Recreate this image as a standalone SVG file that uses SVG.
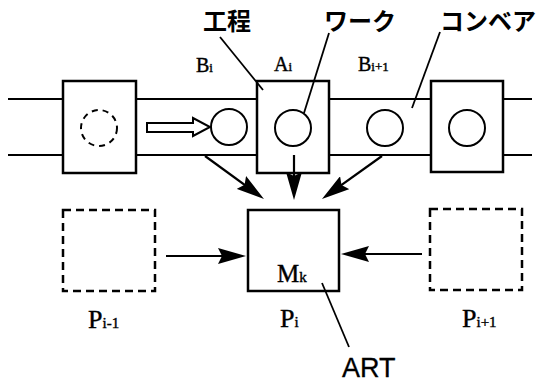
<svg xmlns="http://www.w3.org/2000/svg" width="537" height="383" viewBox="0 0 537 383">
<style>
.box{fill:#fff;stroke:#000;stroke-width:2.5}
.dbox{fill:none;stroke:#000;stroke-width:2.5;stroke-dasharray:8 5}
.wk{fill:#fff;stroke:#000;stroke-width:2}
.belt{fill:none;stroke:#000;stroke-width:2}
.lead{fill:none;stroke:#000;stroke-width:1.8}
.arr{fill:none;stroke:#000;stroke-width:2.2;marker-end:url(#ah)}
.ser{font-family:"Liberation Serif","Times New Roman",serif;fill:#000;stroke:#000;stroke-width:0.4}
.jp{font-family:"Noto Sans CJK JP","Noto Sans",sans-serif;font-size:24px;font-weight:bold;fill:#000}
.sans{font-family:"Liberation Sans",Arial,sans-serif;fill:#000;stroke:#000;stroke-width:0.3}
</style>
<defs>
<marker id="ah" viewBox="0 0 28 16" refX="18" refY="8" markerWidth="28" markerHeight="16" markerUnits="userSpaceOnUse" orient="auto">
<path d="M0,0 L28,8 L0,16 L4,8 z" fill="#000"/>
</marker>
</defs>
<g id="conveyor">
<line class="belt" x1="8" y1="99" x2="63" y2="99"/>
<line class="belt" x1="8" y1="155" x2="63" y2="155"/>
<line class="belt" x1="136" y1="99" x2="257" y2="99"/>
<line class="belt" x1="136" y1="155" x2="257" y2="155"/>
<line class="belt" x1="329" y1="99" x2="431" y2="99"/>
<line class="belt" x1="329" y1="155" x2="431" y2="155"/>
<line class="belt" x1="503" y1="99" x2="532" y2="99"/>
<line class="belt" x1="503" y1="155" x2="532" y2="155"/>
</g>
<g id="station-prev">
<rect class="box" x="63" y="81" width="73" height="92"/>
<circle cx="99" cy="128" r="18" fill="none" stroke="#000" stroke-width="2" stroke-dasharray="6 5"/>
</g>
<g id="buffer-Bi">
<polygon points="147,123 193,123 193,118 210,127 193,136 193,132 147,132" fill="#fff" stroke="#000" stroke-width="2"/>
<circle class="wk" cx="229" cy="127" r="18"/>
<text class="ser" x="196" y="72" font-size="20">B<tspan font-size="13">i</tspan></text>
</g>
<g id="station-Ai">
<rect class="box" x="257" y="81" width="72" height="92"/>
<circle class="wk" cx="293" cy="128" r="18"/>
<text class="ser" x="274" y="71" font-size="20">A<tspan font-size="13">i</tspan></text>
</g>
<g id="buffer-Bi1">
<circle class="wk" cx="385" cy="128" r="18"/>
<text class="ser" x="358" y="71" font-size="20">B<tspan font-size="13">i+1</tspan></text>
</g>
<g id="station-next">
<rect class="box" x="431" y="81" width="72" height="91"/>
<circle class="wk" cx="467" cy="128" r="18"/>
</g>
<g id="Pi">
<rect class="box" x="248" y="210" width="91" height="81"/>
<text class="ser" x="277" y="282" font-size="25">M<tspan font-size="15">k</tspan></text>
<text class="ser" x="280" y="327" font-size="26">P<tspan font-size="15">i</tspan></text>
</g>
<g id="Pi-1">
<rect class="dbox" x="63" y="210" width="92" height="81"/>
<text class="ser" x="88" y="328" font-size="26">P<tspan font-size="15">i-1</tspan></text>
</g>
<g id="Pi+1">
<rect class="dbox" x="430" y="209" width="92" height="81"/>
<text class="ser" x="462" y="327" font-size="26">P<tspan font-size="15">i+1</tspan></text>
</g>
<g id="labels">
<text class="jp" x="203" y="30">工程</text>
<text class="jp" x="324" y="30">ワーク</text>
<text class="jp" x="440" y="30">コンベア</text>
<text class="sans" x="342" y="377" font-size="27">ART</text>
<line class="lead" x1="220" y1="37" x2="263" y2="90"/>
<line class="lead" x1="329" y1="33" x2="304" y2="113"/>
<line class="lead" x1="440" y1="32" x2="412" y2="108"/>
<line class="lead" x1="322" y1="283" x2="349" y2="347"/>
</g>
<g id="connectors">
<line class="arr" x1="205" y1="156" x2="255.9" y2="193.1"/>
<line class="arr" x1="294" y1="155" x2="294" y2="190"/>
<line class="arr" x1="382" y1="156" x2="330.1" y2="193.2"/>
<line class="arr" x1="166" y1="256" x2="236" y2="256"/>
<line class="arr" x1="422" y1="254" x2="351" y2="254"/>
</g>
</svg>
